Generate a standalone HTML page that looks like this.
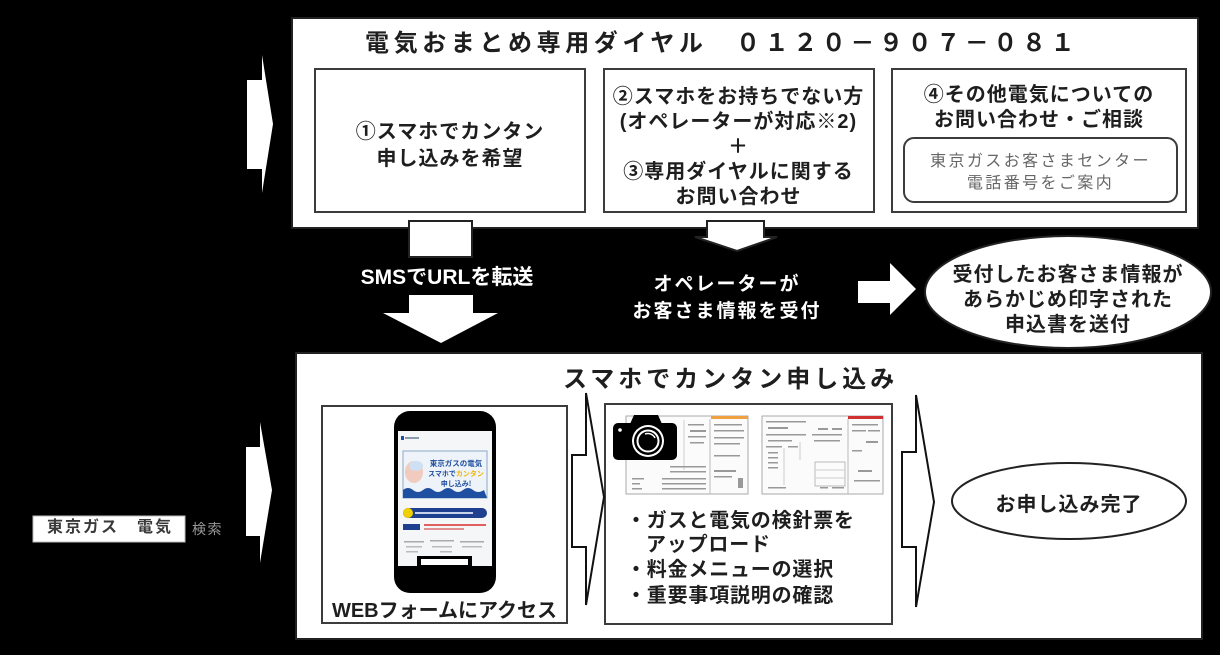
<!DOCTYPE html>
<html><head><meta charset="utf-8">
<style>
html,body{margin:0;padding:0;background:#000;}
#c{position:relative;width:1220px;height:655px;overflow:hidden;background:#000;font-family:"Liberation Sans","Noto Sans CJK JP",sans-serif;}
svg{position:absolute;left:0;top:0;}
.t{position:absolute;white-space:nowrap;color:#1e1e1e;font-weight:bold;}
.c{text-align:center;}
.w{color:#fff;}
</style></head><body><div id="c">
<svg width="1220" height="655" viewBox="0 0 1220 655">
<!-- top box -->
<rect x="292" y="18" width="906" height="210" fill="#fff" stroke="#222" stroke-width="2"/>
<rect x="315" y="69" width="270" height="143" fill="#fff" stroke="#3c3c3c" stroke-width="2"/>
<rect x="604" y="69" width="270" height="143" fill="#fff" stroke="#3c3c3c" stroke-width="2"/>
<rect x="892" y="69" width="294" height="143" fill="#fff" stroke="#3c3c3c" stroke-width="2"/>
<rect x="904" y="138" width="273" height="64" rx="10" fill="#fff" stroke="#3c3c3c" stroke-width="2"/>
<!-- left arrows -->
<polygon points="247,80 262,80 262,55 273,124 262,193 262,169 247,169" fill="#fff"/>
<polygon points="246,447 260,447 260,422 272,490 260,563 260,536 246,536" fill="#fff"/>
<!-- down arrow 1 -->
<rect x="409" y="221" width="63" height="36" fill="#fff" stroke="#222" stroke-width="2"/>
<polygon points="409,295 473,295 473,313 498,313 441,343 383,313 409,313" fill="#fff"/>
<!-- down arrow 2 -->
<polygon points="707,221 764,221 764,237 777,237 737,251 695,237 707,237" fill="#fff" stroke="#222" stroke-width="2"/>
<!-- right arrow -->
<polygon points="858,281 890,281 890,263 916,289 890,315 890,303 858,303" fill="#fff"/>
<!-- ellipse top -->
<ellipse cx="1068" cy="292" rx="143" ry="56" fill="#fff" stroke="#222" stroke-width="2"/>
<!-- search box -->
<rect x="33" y="516" width="152" height="26" fill="#fff" stroke="#bbb" stroke-width="1"/>
<!-- bottom box -->
<rect x="296" y="353" width="906" height="286" fill="#fff" stroke="#222" stroke-width="2"/>
<rect x="322" y="406" width="245" height="217" fill="#fff" stroke="#3c3c3c" stroke-width="2"/>
<rect x="605" y="404" width="287" height="220" fill="#fff" stroke="#3c3c3c" stroke-width="2"/>
<!-- chevrons -->
<polygon points="572,455 586,455 586,393 604,497 586,605 586,547 572,547" fill="#fff" stroke="#111" stroke-width="2"/>
<polygon points="902,452 916,452 916,395 934,502 916,607 916,547 902,547" fill="#fff" stroke="#111" stroke-width="2"/>
<ellipse cx="1069" cy="501" rx="117" ry="38" fill="#fff" stroke="#222" stroke-width="2"/>

<!-- phone -->
<rect x="394" y="411" width="102" height="182" rx="16" fill="#000"/>
<rect x="398" y="431" width="94" height="135" fill="#f5f6f8"/>
<rect x="401" y="436" width="3" height="4" fill="#1f4fa0"/>
<rect x="405" y="437" width="14" height="2" fill="#8a9ab0"/>
<rect x="403" y="451" width="84" height="47" fill="#eef3f9" stroke="#8aa8c8" stroke-width="1"/>
<ellipse cx="414" cy="472" rx="9" ry="11" fill="#f1cbbd"/>
<ellipse cx="416" cy="466" rx="7" ry="5" fill="#cfe0f2"/>
<text x="456" y="466" font-size="7.5" font-weight="bold" fill="#1f4fa0" text-anchor="middle" font-family="Noto Sans CJK JP, sans-serif">東京ガスの電気</text>
<text x="456" y="476" font-size="7" font-weight="bold" fill="#1f4fa0" text-anchor="middle" font-family="Noto Sans CJK JP, sans-serif">スマホで<tspan fill="#f0b400">カンタン</tspan></text>
<text x="456" y="486" font-size="7" font-weight="bold" fill="#1f4fa0" text-anchor="middle" font-family="Noto Sans CJK JP, sans-serif">申し込み!</text>
<path d="M403,490 q5,-4 10,0 t10,0 t10,0 t10,0 t10,0 t10,0 t10,0 t11,0 L487,498 L403,498Z" fill="#1f4fa0"/>
<rect x="403" y="508" width="84" height="10" rx="5" fill="#1f3f8f"/>
<circle cx="408" cy="513" r="5" fill="#f0d000"/>
<rect x="415" y="512" width="58" height="2" fill="#c8d4ee"/>
<rect x="403" y="524" width="17" height="6" fill="#1f3f8f"/>
<rect x="424" y="524" width="62" height="2" fill="#e06060"/>
<rect x="424" y="528" width="40" height="2" fill="#e09090"/>
<rect x="404" y="541" width="20" height="1.5" fill="#aaa"/>
<rect x="430" y="540" width="24" height="1.5" fill="#aaa"/>
<rect x="460" y="541" width="24" height="1.5" fill="#aaa"/>
<rect x="406" y="546" width="16" height="1.5" fill="#bbb"/>
<rect x="432" y="546" width="20" height="1.5" fill="#bbb"/>
<rect x="462" y="546" width="20" height="1.5" fill="#bbb"/>
<rect x="406" y="551" width="12" height="1.5" fill="#bbb"/>
<rect x="440" y="551" width="12" height="1.5" fill="#bbb"/>
<rect x="417" y="556" width="55" height="10" fill="#000"/>
<rect x="421" y="559" width="47" height="6" fill="#fff"/>

<!-- bill 1 -->
<rect x="626" y="416" width="122" height="78" fill="#fbfbfb" stroke="#aaa" stroke-width="1"/>
<rect x="711" y="416" width="37" height="3" fill="#f0a040"/>
<line x1="710" y1="419" x2="710" y2="494" stroke="#bbb" stroke-width="1"/>
<line x1="684" y1="420" x2="684" y2="470" stroke="#ccc" stroke-width="1"/>
<g fill="#999">
<rect x="688" y="424" width="16" height="1.5"/><rect x="690" y="430" width="16" height="2"/>
<rect x="688" y="436" width="18" height="1.5"/><rect x="690" y="442" width="14" height="1.5"/>
<rect x="714" y="424" width="28" height="1.5"/><rect x="714" y="430" width="30" height="1.5"/>
<rect x="714" y="437" width="30" height="1.5"/><rect x="714" y="443" width="26" height="1.5"/>
<rect x="714" y="455" width="26" height="1.5"/><rect x="714" y="470" width="22" height="2"/>
<rect x="714" y="476" width="18" height="1.5"/><rect x="738" y="478" width="5" height="10"/>
<rect x="670" y="466" width="36" height="1.5"/><rect x="670" y="471" width="36" height="1.5"/>
<rect x="632" y="478" width="12" height="1.5"/><rect x="632" y="483" width="8" height="1.5"/>
<rect x="632" y="488" width="10" height="1.5"/>
<rect x="662" y="478" width="44" height="1.5"/><rect x="662" y="483" width="44" height="1.5"/>
<rect x="662" y="488" width="44" height="1.5"/>
</g>
<!-- bill 2 -->
<rect x="762" y="416" width="121" height="78" fill="#fbfbfb" stroke="#aaa" stroke-width="1"/>
<rect x="848" y="416" width="35" height="3" fill="#d03030"/>
<line x1="848" y1="419" x2="848" y2="494" stroke="#bbb" stroke-width="1"/>
<rect x="815" y="462" width="30" height="24" fill="none" stroke="#bbb" stroke-width="1"/>
<line x1="815" y1="470" x2="845" y2="470" stroke="#ccc"/>
<line x1="815" y1="478" x2="845" y2="478" stroke="#ccc"/>
<line x1="784" y1="448" x2="784" y2="485" stroke="#ccc"/>
<line x1="800" y1="442" x2="800" y2="460" stroke="#ccc"/>
<g fill="#999">
<rect x="766" y="421" width="40" height="1.5"/><rect x="768" y="427" width="20" height="2"/>
<rect x="818" y="428" width="10" height="2"/><rect x="832" y="428" width="10" height="2"/>
<rect x="766" y="434" width="40" height="1.5"/><rect x="768" y="440" width="24" height="1.5"/>
<rect x="812" y="434" width="30" height="1.5"/><rect x="814" y="440" width="26" height="1.5"/>
<rect x="766" y="446" width="16" height="1.5"/><rect x="788" y="446" width="10" height="1.5"/>
<rect x="768" y="452" width="10" height="1.5"/><rect x="768" y="457" width="10" height="1.5"/>
<rect x="768" y="462" width="10" height="1.5"/><rect x="768" y="467" width="10" height="1.5"/>
<rect x="768" y="487" width="18" height="1.5"/><rect x="820" y="487" width="8" height="1.5"/>
<rect x="832" y="487" width="12" height="1.5"/>
<rect x="852" y="424" width="26" height="1.5"/><rect x="852" y="430" width="14" height="1.5"/>
<rect x="868" y="430" width="12" height="1.5"/><rect x="866" y="441" width="12" height="2"/>
<rect x="852" y="450" width="10" height="1.5"/><rect x="858" y="470" width="14" height="2"/>
<rect x="854" y="480" width="26" height="1.5"/>
</g>
<!-- camera -->
<path d="M630,424 L634,415 L658,415 L662,424Z" fill="#000"/>
<rect x="613" y="423" width="64" height="37" rx="5" fill="#000"/>
<circle cx="620" cy="430" r="1.8" fill="#fff"/>
<circle cx="648" cy="441" r="16" fill="#fff"/>
<circle cx="648" cy="441" r="14" fill="#000"/>
<circle cx="648" cy="441" r="10.5" fill="none" stroke="#fff" stroke-width="2"/>
<path d="M645,434 a8,8 0 0 1 10,4" fill="none" stroke="#fff" stroke-width="1.5"/>
</svg>

<!-- top title -->
<div class="t" style="left:365px;top:29px;font-size:24px;line-height:30px;letter-spacing:4.6px;">電気おまとめ専用ダイヤル</div>
<div class="t" style="left:736px;top:29px;font-size:24px;line-height:30px;letter-spacing:4.6px;">０１２０－９０７－０８１</div>

<div class="t c" style="left:314px;width:272px;top:119px;font-size:20px;line-height:27px;letter-spacing:1px;">①スマホでカンタン<br>申し込みを希望</div>
<div class="t c" style="left:603px;width:271px;top:85px;font-size:20px;line-height:25px;letter-spacing:1px;">②スマホをお持ちでない方<br>(オペレーターが対応※2)<br>＋<br>③専用ダイヤルに関する<br>お問い合わせ</div>
<div class="t c" style="left:891px;width:296px;top:83px;font-size:20px;line-height:25px;letter-spacing:1px;">④その他電気についての<br>お問い合わせ・ご相談</div>
<div class="t c" style="left:903px;width:275px;top:151px;font-size:16px;line-height:22px;letter-spacing:2.4px;color:#666;font-weight:normal;">東京ガスお客さまセンター<br>電話番号をご案内</div>

<div class="t c w" style="left:340px;width:214px;top:265px;font-size:21px;line-height:26px;">SMSでURLを転送</div>
<div class="t c w" style="left:617px;width:220px;top:271px;font-size:19px;line-height:27px;letter-spacing:2px;">オペレーターが<br>お客さま情報を受付</div>
<div class="t c" style="left:918px;width:300px;top:263px;font-size:20px;line-height:25px;letter-spacing:1px;">受付したお客さま情報が<br>あらかじめ印字された<br>申込書を送付</div>

<div class="t" style="left:563px;top:364px;font-size:24px;line-height:32px;letter-spacing:4px;">スマホでカンタン申し込み</div>

<div class="t" style="left:47px;top:517px;font-size:16px;line-height:22px;letter-spacing:2px;color:#3a3a3a;">東京ガス　電気</div>
<div class="t" style="left:192px;top:519px;font-size:14px;line-height:20px;letter-spacing:1.5px;color:#999;font-weight:normal;">検索</div>

<div class="t c" style="left:321px;width:247px;top:598px;font-size:20px;line-height:26px;">WEBフォームにアクセス</div>

<div class="t" style="left:626px;top:509px;font-size:20px;line-height:25px;letter-spacing:0.8px;">・ガスと電気の検針票を</div>
<div class="t" style="left:646px;top:533px;font-size:20px;line-height:25px;letter-spacing:0.8px;">アップロード</div>
<div class="t" style="left:626px;top:558px;font-size:20px;line-height:25px;letter-spacing:0.8px;">・料金メニューの選択</div>
<div class="t" style="left:626px;top:584px;font-size:20px;line-height:25px;letter-spacing:0.8px;">・重要事項説明の確認</div>

<div class="t c" style="left:969px;width:200px;top:492px;font-size:20px;line-height:26px;letter-spacing:1px;">お申し込み完了</div>
</div></body></html>
